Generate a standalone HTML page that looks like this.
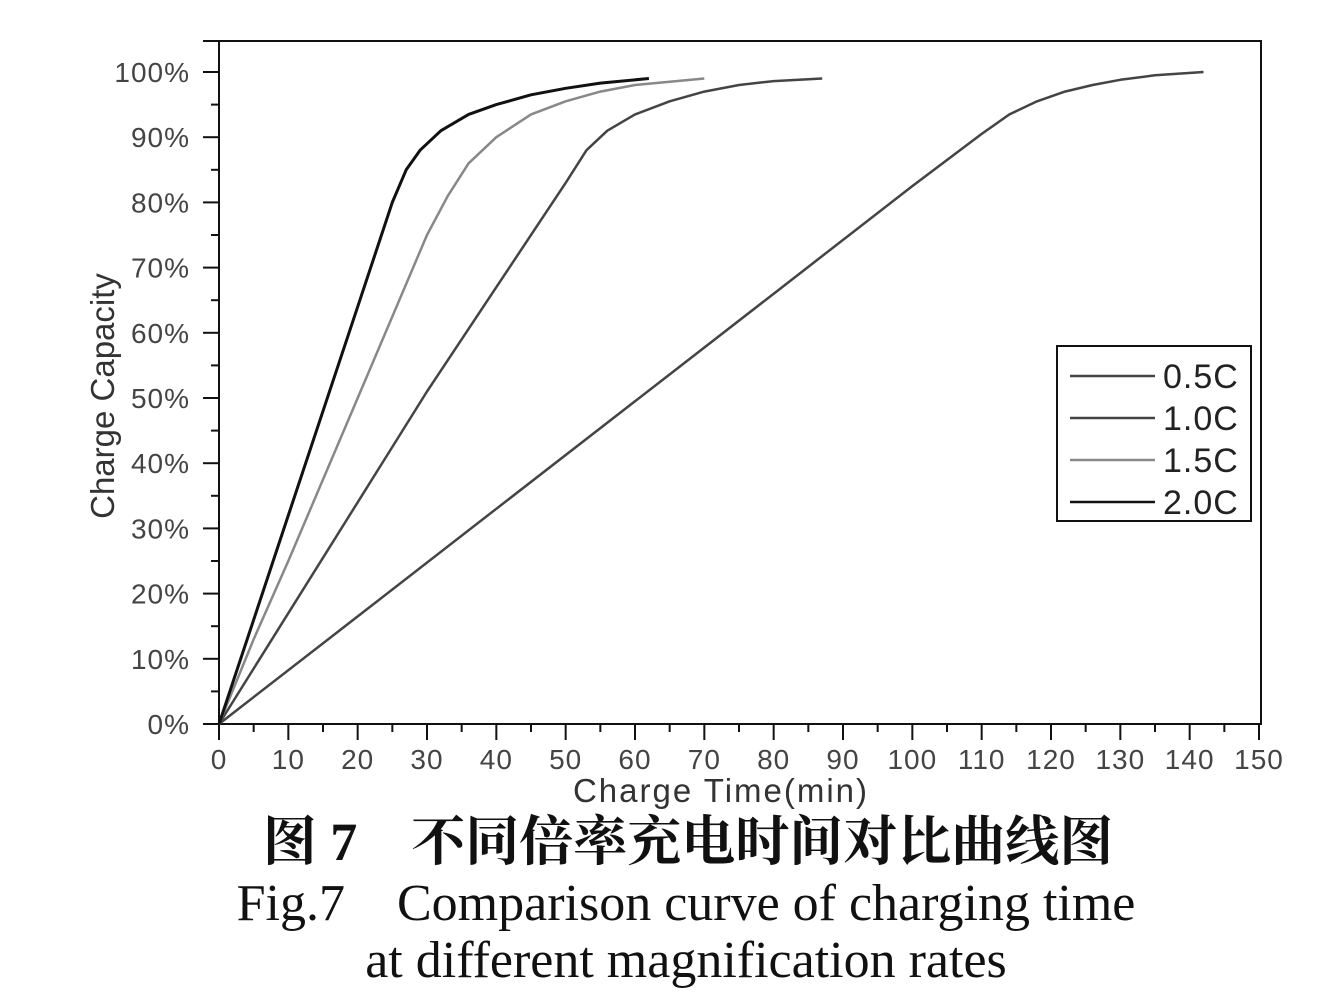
<!DOCTYPE html>
<html><head><meta charset="utf-8"><style>
body{margin:0;background:#fff;width:1332px;height:1004px;overflow:hidden}
svg{display:block}
</style></head><body>
<svg width="1332" height="1004" xmlns="http://www.w3.org/2000/svg">
<g id="axes"></g>
<g id="series"></g>
<rect x="1057" y="346" width="194" height="175" fill="#fff" stroke="#111" stroke-width="2"/>
<g id="legend"></g>
<text x="721" y="802" font-family="Liberation Sans, sans-serif" font-size="33" fill="#333" text-anchor="middle" letter-spacing="2">Charge Time(min)</text>
<text transform="translate(114,396) rotate(-90)" font-family="Liberation Sans, sans-serif" font-size="33" fill="#333" text-anchor="middle">Charge Capacity</text>
<text x="688" y="860" font-family="Liberation Serif, 'Noto Serif CJK SC', serif" font-weight="bold" font-size="54" fill="#111" text-anchor="middle">图 7　不同倍率充电时间对比曲线图</text>
<text x="686" y="920" font-family="Liberation Serif, serif" font-size="52" fill="#111" text-anchor="middle">Fig.7　Comparison curve of charging time</text>
<text x="686" y="977" font-family="Liberation Serif, serif" font-size="52" fill="#111" text-anchor="middle">at different magnification rates</text>
</svg>
<script>
const xTicks=[0,10,20,30,40,50,60,70,80,90,100,110,120,130,140,150];
const yTicks=[0,10,20,30,40,50,60,70,80,90,100];
const seriesNames=["0.5C","1.0C","1.5C","2.0C"];
const seriesColors=["#444","#444","#888","#111"];
const t05=[0,20,40,60,80,100,110,114,118,122,126,130,135,142];
const c05=[0,16.5,33,49.5,66,82.5,90.5,93.5,95.5,97,98,98.8,99.5,100];
const t10=[0,10,20,30,40,50,53,56,60,65,70,75,80,87];
const c10=[0,17,34,51,67,83,88,91,93.5,95.5,97,98,98.6,99];
const t15=[0,5,10,20,30,33,36,40,45,50,55,60,65,70];
const c15=[0,13,25,50,75,81,86,90,93.5,95.5,97,98,98.5,99];
const t20=[0,5,10,20,25,27,29,32,36,40,45,50,55,62];
const c20=[0,16,32,64,80,85,88,91,93.5,95,96.5,97.5,98.3,99];
const allT=[t05,t10,t15,t20], allC=[c05,c10,c15,c20];
const X0=219,XW=1040,Y0=724,YH=652;
const xs=v=>X0+v/150*XW, ys=v=>Y0-v/100*YH;
const NS="http://www.w3.org/2000/svg";
function mk(tag,attrs,parent){const e=document.createElementNS(NS,tag);for(const k in attrs)e.setAttribute(k,attrs[k]);parent.appendChild(e);return e;}
const ax=document.getElementById('axes');
let e;
e=mk('path',{d:`M${X0} 41 V${Y0} M203 ${Y0} H1261 V41 H203`,stroke:'#111','stroke-width':2,fill:'none'},ax);


xTicks.forEach((v,i)=>{
 e=mk('line',{x1:xs(v),x2:xs(v),y1:Y0,y2:Y0+16,stroke:'#111','stroke-width':2},ax);
 
 
 if(i<xTicks.length-1){e=mk('line',{x1:xs(v+5),x2:xs(v+5),y1:Y0,y2:Y0+8,stroke:'#111','stroke-width':2},ax);
 
 }
 e=mk('text',{x:xs(v),y:Y0+45,'text-anchor':'middle','font-family':'Liberation Sans, sans-serif','font-size':28,'letter-spacing':1,fill:'#444'},ax);
 e.textContent=v;
 
 
});
yTicks.forEach((v,i)=>{
 e=mk('line',{x1:X0-16,x2:X0,y1:ys(v),y2:ys(v),stroke:'#111','stroke-width':2},ax);
 
 
 if(i<yTicks.length-1){e=mk('line',{x1:X0-8,x2:X0,y1:ys(v+5),y2:ys(v+5),stroke:'#111','stroke-width':2},ax);
 
 }
 e=mk('text',{x:190,y:ys(v)+10,'text-anchor':'end','font-family':'Liberation Sans, sans-serif','font-size':28,'letter-spacing':1,fill:'#444'},ax);
 e.textContent=v+'%';
 
 
});
const sg=document.getElementById('series');
allT.forEach((T,s)=>{
 const d=T.map((t,i)=>(i?'L':'M')+xs(t).toFixed(1)+' '+ys(allC[s][i]).toFixed(1)).join(' ');
 e=mk('path',{d:d,stroke:seriesColors[s],'stroke-width':s==3?3:2.5,fill:'none','stroke-linejoin':'round'},sg);
 
 
});
const lg=document.getElementById('legend');
seriesNames.forEach((n,i)=>{
 const y=376+i*42;
 e=mk('line',{x1:1070,x2:1155,y1:y,y2:y,stroke:seriesColors[i],'stroke-width':2.5},lg);
 
 
 e=mk('text',{x:1163,y:y+12,'font-family':'Liberation Sans, sans-serif','font-size':34,'letter-spacing':1,fill:'#222'},lg);
 e.textContent=n;
 
 
});
</script>
</body></html>
